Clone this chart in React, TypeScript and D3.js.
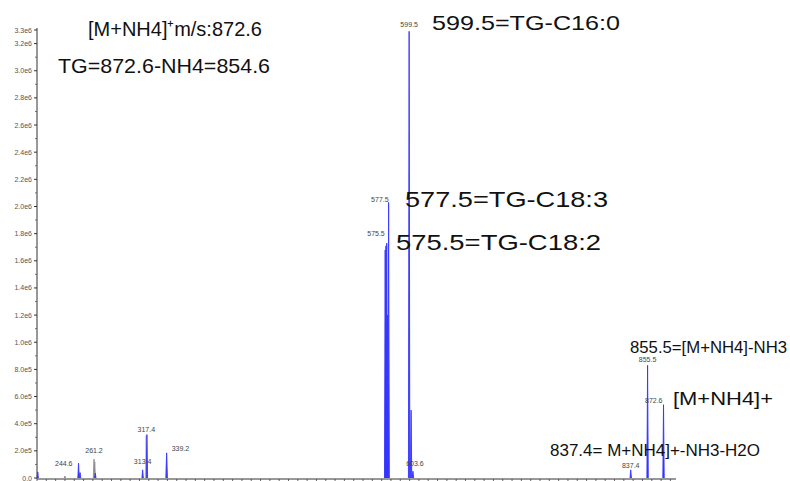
import React from 'react';
import * as d3 from 'd3';

// ---- data ----
const blueMz = [200.8, 244.6, 246.2, 262.6, 313.4, 318.0, 339.2, 573.8, 574.6, 575.5, 576.3, 577.5, 599.5, 601.6, 603.6, 837.4, 855.5, 872.6];
const blueIntensity = [4.5e4, 1.1e5, 4.0e4, 3.5e4, 6.0e4, 3.2e5, 1.85e5, 1.68e6, 1.71e6, 1.73e6, 1.2e6, 2.03e6, 3.29e6, 5.0e5, 5.0e4, 6.0e4, 8.3e5, 5.4e5];
const grayMz = [230.0, 261.2, 262.0];
const grayIntensity = [1.5e4, 1.4e5, 1.2e5];
const yellowMz = [317.0, 339.0];
const yellowIntensity = [3.1e5, 1.6e5];

const labelMz = [244.6, 261.2, 313.4, 317.4, 339.2, 575.5, 577.5, 599.5, 603.6, 837.4, 855.5, 872.6];
const labelIntensity = [1.1e5, 1.4e5, 6.0e4, 3.2e5, 1.85e5, 1.73e6, 2.03e6, 3.29e6, 5.0e4, 6.0e4, 8.3e5, 5.4e5];

const yTickValues = [0, 2e5, 4e5, 6e5, 8e5, 1.0e6, 1.2e6, 1.4e6, 1.6e6, 1.8e6, 2.0e6, 2.2e6, 2.4e6, 2.6e6, 2.8e6, 3.0e6, 3.2e6, 3.3e6];

const annotationTexts = [
  '[M+NH4]\u207Am/s:872.6',
  'TG=872.6-NH4=854.6',
  '599.5=TG-C16:0',
  '577.5=TG-C18:3',
  '575.5=TG-C18:2',
  '855.5=[M+NH4]-NH3',
  '[M+NH4]+',
  '837.4= M+NH4]+-NH3-H2O',
];

// ---- layout (kept apart from the data) ----
const W = 790;
const H = 481;
const X0 = 37;
const X1 = 676;
const Y0 = 478;
const Y1 = 30;
const FONT = 'Arial, "Liberation Sans", sans-serif';

// label placement: anchor, dx, dy
const labelLayout: [string, number, number][] = [
  ['end', -6, 5],
  ['middle', 0, -4],
  ['middle', 0, -4],
  ['middle', 0, -1],
  ['start', 5, 0],
  ['end', -2, -5],
  ['end', 0, 2],
  ['middle', 0, -2],
  ['middle', 2, -3],
  ['middle', 0, 0],
  ['middle', 0, -1],
  ['end', -1, 0],
];

// annotation placement: x, y baseline, font size, text length
const annotationLayout: [number, number, number, number][] = [
  [88, 36, 21, 174],
  [58, 73, 21, 212],
  [432, 30, 21, 188],
  [405, 207, 22, 203],
  [396, 250, 22, 205],
  [630, 352.5, 16, 157],
  [673, 405, 19, 100],
  [550, 456, 17, 210],
];

export default function App() {
  const x = d3.scaleLinear().domain([200, 886]).range([X0, X1]);
  const y = d3.scaleLinear().domain([0, 3.3e6]).range([Y0, Y1]);

  const fmt = (v: number) => (v === 0 ? '0.0' : d3.format('.1e')(v).replace('+', ''));
  const minorY = d3.range(1e5, 3.3e6, 2e5);
  const xTicks = d3.range(200, 886, 10);

  const peakPath = (mz: number, inten: number) => {
    const line = d3.line<[number, number]>();
    return line([
      [x(mz) - 0.7, y(0)],
      [x(mz), y(inten)],
      [x(mz) + 0.7, y(0)],
    ]) as string;
  };

  return (
    <svg
      width={W}
      height={H}
      style={{ position: 'absolute', left: 0, top: 0, background: '#fff' }}
      fontFamily={FONT}
    >
      <rect x={0} y={0} width={W} height={H} fill="#fff" />

      {/* y axis */}
      <line x1={X0} x2={X0} y1={28} y2={Y0 + 1} stroke="#333" strokeWidth={1} />
      {yTickValues.map((v, i) => (
        <g key={'yt' + i}>
          <line x1={X0 - 3} x2={X0} y1={y(v)} y2={y(v)} stroke="#333" strokeWidth={1} />
          <text x={32} y={y(v) + 2.5} fontSize={7} fill="#555" textAnchor="end">
            {fmt(v)}
          </text>
        </g>
      ))}
      {minorY.map((v, i) => (
        <line key={'ym' + i} x1={X0 - 2} x2={X0} y1={y(v)} y2={y(v)} stroke="#555" strokeWidth={0.8} />
      ))}

      {/* x axis */}
      <line x1={X0} x2={X1} y1={Y0 + 1} y2={Y0 + 1} stroke="#333" strokeWidth={1} />
      {xTicks.map((v, i) => (
        <line key={'xt' + i} x1={x(v)} x2={x(v)} y1={Y0 + 1} y2={Y0 + 4} stroke="#444" strokeWidth={0.8} />
      ))}

      {/* peaks */}
      {grayMz.map((m, i) => (
        <path key={'g' + i} d={peakPath(m, grayIntensity[i])} fill="#8a8a8a" stroke="#8a8a8a" strokeWidth={0.8} />
      ))}
      {yellowMz.map((m, i) => (
        <path key={'yw' + i} d={peakPath(m, yellowIntensity[i])} fill="#d8c840" stroke="#d8c840" strokeWidth={0.8} />
      ))}
      {blueMz.map((m, i) => (
        <path key={'b' + i} d={peakPath(m, blueIntensity[i])} fill="#3535ff" stroke="#3535ff" strokeWidth={0.9} />
      ))}

      {/* peak labels */}
      {labelMz.map((m, i) => {
        const [anchor, dx, dy] = labelLayout[i];
        return (
          <text
            key={'pl' + i}
            x={x(m) + dx}
            y={y(labelIntensity[i]) - 2 + dy}
            fontSize={7}
            fill="#444"
            textAnchor={anchor as any}
          >
            {m.toFixed(1)}
          </text>
        );
      })}

      {/* annotations */}
      {annotationTexts.map((t, i) => {
        const [ax, ay, fs, len] = annotationLayout[i];
        return (
          <text
            key={'an' + i}
            x={ax}
            y={ay}
            fontSize={fs}
            fill="#111"
            textLength={len}
            lengthAdjust="spacingAndGlyphs"
          >
            {t}
          </text>
        );
      })}
    </svg>
  );
}
